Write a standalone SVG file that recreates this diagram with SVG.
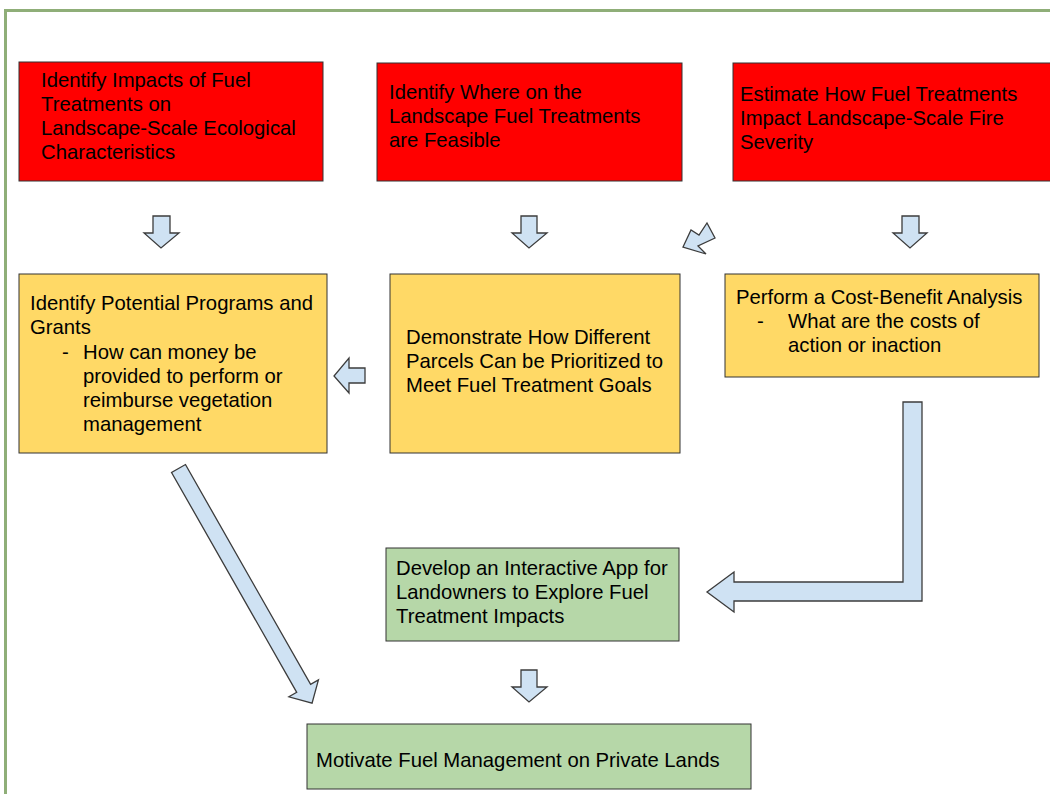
<svg xmlns="http://www.w3.org/2000/svg" width="1050" height="794" viewBox="0 0 1050 794">
<style>
text{font-family:"Liberation Sans",Arial,sans-serif;font-size:20.3px;fill:#000}
.red{fill:#ff0000;stroke:#333;stroke-width:1}
.yel{fill:#ffd966;stroke:#333;stroke-width:1}
.grn{fill:#b6d7a8;stroke:#333;stroke-width:1}
.arr{fill:#cfe2f3;stroke:#3c3c3c;stroke-width:1.3;stroke-linejoin:miter}
</style>
<rect x="0" y="0" width="1050" height="794" fill="#fff"/>
<rect x="5.5" y="10.5" width="1070" height="800" fill="none" stroke="#8fae78" stroke-width="3"/>
<g id="n1"><rect class="red" x="19" y="62" width="304" height="119"/>
<text x="41" y="87">Identify Impacts of Fuel</text><text x="41" y="111">Treatments on</text><text x="41" y="135">Landscape-Scale Ecological</text><text x="41" y="159">Characteristics</text></g>
<g id="n2"><rect class="red" x="377" y="63" width="305" height="118"/>
<text x="389" y="99">Identify Where on the</text><text x="389" y="123">Landscape Fuel Treatments</text><text x="389" y="147">are Feasible</text></g>
<g id="n3"><rect class="red" x="733" y="63" width="330" height="118"/>
<text x="740" y="101">Estimate How Fuel Treatments</text><text x="740" y="125">Impact Landscape-Scale Fire</text><text x="740" y="149">Severity</text></g>
<g id="n4"><rect class="yel" x="19" y="274" width="308" height="179"/>
<text x="30" y="310">Identify Potential Programs and</text><text x="30" y="334">Grants</text>
<text x="62" y="359">-</text><text x="83" y="359">How can money be</text><text x="83" y="383">provided to perform or</text><text x="83" y="407">reimburse vegetation</text><text x="83" y="431">management</text></g>
<g id="n5"><rect class="yel" x="390" y="274" width="290" height="179"/>
<text x="406" y="344">Demonstrate How Different</text><text x="406" y="368">Parcels Can be Prioritized to</text><text x="406" y="392">Meet Fuel Treatment Goals</text></g>
<g id="n6"><rect class="yel" x="725" y="274" width="314" height="103"/>
<text x="736" y="304">Perform a Cost-Benefit Analysis</text>
<text x="757" y="328">-</text><text x="788" y="328">What are the costs of</text><text x="788" y="352">action or inaction</text></g>
<g id="n7"><rect class="grn" x="386" y="548" width="293" height="93"/>
<text x="396" y="575">Develop an Interactive App for</text><text x="396" y="599">Landowners to Explore Fuel</text><text x="396" y="623">Treatment Impacts</text></g>
<g id="n8"><rect class="grn" x="307" y="724" width="444" height="65"/>
<text x="316" y="767">Motivate Fuel Management on Private Lands</text></g>
<g id="connectors">
<polygon class="arr" points="153,216 170,216 170,233 179,233 161,248 144,233 153,233"/>
<polygon class="arr" points="521,216 537,216 537,233 547,233 529,248 512,233 521,233"/>
<polygon class="arr" points="902,216 919,216 919,233 927,233 910,248 893,233 902,233"/>
<polygon class="arr" points="521,670 537,670 537,687 547,687 529,702 512,687 521,687"/>
<polygon class="arr" points="365,368 365,383 349,383 349,393 334,376 349,358 349,368"/>
<polygon class="arr" points="707,223 715,238 698,246 706,254 683,247 691,230 699,235"/>
<polygon class="arr" points="903,402 922,402 922,601 734,601 734,612 707,592 734,572 734,582 903,582"/>
<polygon class="arr" transform="translate(178.5,468.5) rotate(60.35)" points="0,-8 253,-8 253,-17 270,0 253,17 253,8 0,8"/>
</g>
</svg>
